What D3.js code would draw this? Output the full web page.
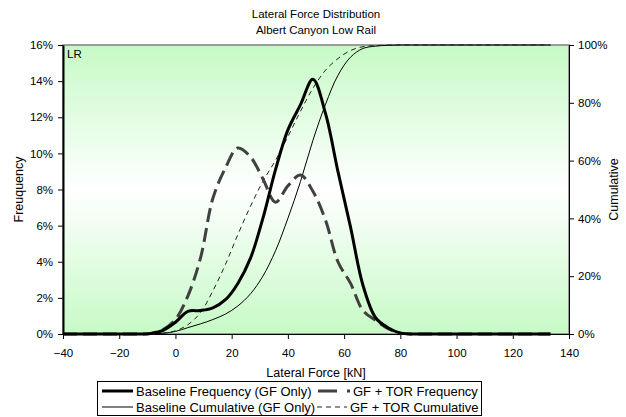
<!DOCTYPE html>
<html>
<head>
<meta charset="utf-8">
<script src="https://cdnjs.cloudflare.com/ajax/libs/d3/7.8.5/d3.min.js"></script>
<style>
  body { margin: 0; background: #fff; }
  svg { display: block; font-family: "Liberation Sans", Arial, sans-serif; }
</style>
</head>
<body>
<svg id="chart"></svg>
<script>
// lateral force bins, kN (1 kip steps)
let force = [-40.0, -35.6, -31.1, -26.7, -22.2, -17.8, -13.3, -8.9, -4.4, 0,
  4.4, 8.9, 13.3, 17.8, 22.2, 26.7, 31.1, 35.6, 40.0, 44.5,
  48.9, 53.4, 57.8, 62.3, 66.7, 71.2, 75.6, 80.1, 84.5, 89.0,
  93.4, 97.9, 102.3, 106.8, 111.2, 115.6, 120.1, 124.5, 129.0, 133.4]

// frequency, %
let baseFreq = [0, 0, 0, 0, 0, 0, 0, 0.02, 0.2, 0.65,
  1.25, 1.3, 1.45, 1.9, 2.8, 4.2, 6.4, 9.1, 11.3, 12.7,
  14.1, 12.2, 9.0, 5.9, 2.7, 0.9, 0.35, 0.05, 0, 0,
  0, 0, 0, 0, 0, 0, 0, 0, 0, 0]

let torFreq = [0, 0, 0, 0, 0, 0, 0, 0.03, 0.25, 0.8,
  2.1, 4.2, 7.5, 9.2, 10.3, 9.8, 8.6, 7.3, 8.2, 8.8,
  7.9, 6.3, 4.0, 2.8, 1.3, 0.75, 0.3, 0.05, 0, 0,
  0, 0, 0, 0, 0, 0, 0, 0, 0, 0]

// cumulative, %
let baseCum = [0, 0, 0, 0, 0, 0, 0, 0.02, 0.25, 0.9,
  2.2, 3.5, 5.0, 6.9, 9.7, 13.9, 20.0, 28.8, 40.0, 52.8,
  67.0, 79.5, 89.5, 95.8, 98.8, 99.6, 99.9, 100, 100, 100,
  100, 100, 100, 100, 100, 100, 100, 100, 100, 100]

let torCum = [0, 0, 0, 0, 0, 0, 0, 0.03, 0.3, 1.1,
  3.2, 7.4, 14.9, 24.1, 34.4, 44.2, 52.8, 60.1, 68.3, 77.1,
  85.0, 91.3, 95.3, 98.1, 99.4, 99.8, 99.95, 100, 100, 100,
  100, 100, 100, 100, 100, 100, 100, 100, 100, 100]

let forceTicks = [-40, -20, 0, 20, 40, 60, 80, 100, 120, 140]
let freqTicks = [0, 2, 4, 6, 8, 10, 12, 14, 16]
let cumTicks = [0, 20, 40, 60, 80, 100]

let width = 626
let height = 417
let margin = { top: 45, right: 57, bottom: 83, left: 63 }
let plotW = width - margin.left - margin.right
let plotH = height - margin.top - margin.bottom

let svg = d3.select("#chart")
  .attr("width", width)
  .attr("height", height)

let x = d3.scaleLinear().domain([-40, 140]).range([margin.left, margin.left + plotW])
let y = d3.scaleLinear().domain([0, 16]).range([margin.top + plotH, margin.top])
let y2 = d3.scaleLinear().domain([0, 100]).range([margin.top + plotH, margin.top])

// plot background gradient
let grad = svg.append("defs").append("linearGradient")
  .attr("id", "bg")
  .attr("x1", 0).attr("y1", 0).attr("x2", 0).attr("y2", 1)
grad.append("stop").attr("offset", "0%").attr("stop-color", "#c6fac6")
grad.append("stop").attr("offset", "50%").attr("stop-color", "#ffffff")
grad.append("stop").attr("offset", "100%").attr("stop-color", "#c6fac6")

svg.append("rect")
  .attr("x", margin.left)
  .attr("y", margin.top)
  .attr("width", plotW)
  .attr("height", plotH)
  .attr("fill", "url(#bg)")
  .attr("stroke", "#808080")
  .attr("stroke-width", 1.5)

// titles
svg.append("text")
  .attr("x", margin.left + plotW / 2)
  .attr("y", 18)
  .attr("text-anchor", "middle")
  .attr("font-size", 11.5)
  .text("Lateral Force Distribution")

svg.append("text")
  .attr("x", margin.left + plotW / 2)
  .attr("y", 34)
  .attr("text-anchor", "middle")
  .attr("font-size", 11.5)
  .text("Albert Canyon Low Rail")

svg.append("text")
  .attr("x", margin.left + 4)
  .attr("y", margin.top + 13)
  .attr("font-size", 11.5)
  .text("LR")

// axes
let xAxis = svg.append("g")
  .attr("transform", "translate(0," + (margin.top + plotH) + ")")
  .call(d3.axisBottom(x).tickValues(forceTicks).tickSize(5).tickPadding(10).tickSizeOuter(0))

let yAxis = svg.append("g")
  .attr("transform", "translate(" + margin.left + ",0)")
  .call(d3.axisLeft(y).tickValues(freqTicks).tickFormat(d => d + "%").tickSize(5).tickPadding(5).tickSizeOuter(0))

let y2Axis = svg.append("g")
  .attr("transform", "translate(" + (margin.left + plotW) + ",0)")
  .call(d3.axisRight(y2).tickValues(cumTicks).tickFormat(d => d + "%").tickSize(5).tickPadding(4).tickSizeOuter(0))

svg.selectAll("g").attr("font-family", null).attr("font-size", null)
svg.selectAll(".tick text").attr("font-size", 11.5).attr("fill", "#000")
svg.selectAll(".domain, .tick line").attr("stroke", "#000")
yAxis.select(".domain").attr("stroke-width", 2)

svg.append("text")
  .attr("transform", "translate(23," + (margin.top + plotH / 2) + ") rotate(-90)")
  .attr("text-anchor", "middle")
  .attr("font-size", 12.5)
  .text("Freuquency")

svg.append("text")
  .attr("transform", "translate(618," + (margin.top + plotH / 2) + ") rotate(-90)")
  .attr("text-anchor", "middle")
  .attr("font-size", 12.5)
  .text("Cumulative")

svg.append("text")
  .attr("x", margin.left + plotW / 2)
  .attr("y", 377)
  .attr("text-anchor", "middle")
  .attr("font-size", 12.5)
  .text("Lateral Force [kN]")

// series
let series = [
  { name: "Baseline Cumulative (GF Only)", values: baseCum, scale: y2, color: "#000", width: 1, dash: null },
  { name: "GF + TOR Cumulative", values: torCum, scale: y2, color: "#222", width: 1, dash: "5,4" },
  { name: "GF + TOR Frequency", values: torFreq, scale: y, color: "#404040", width: 3, dash: "14,6" },
  { name: "Baseline Frequency (GF Only)", values: baseFreq, scale: y, color: "#000", width: 3, dash: null }
]

series.forEach(function(s) {
  let line = d3.line()
    .x((d, i) => x(force[i]))
    .y(d => s.scale(d))
    .curve(d3.curveCatmullRom.alpha(0.5))
  svg.append("path")
    .datum(s.values)
    .attr("d", line)
    .attr("fill", "none")
    .attr("stroke", s.color)
    .attr("stroke-width", s.width)
    .attr("stroke-dasharray", s.dash)
})

// legend
let legend = svg.append("g")
legend.append("rect")
  .attr("x", 97.5)
  .attr("y", 381.5)
  .attr("width", 384)
  .attr("height", 34)
  .attr("fill", "#fff")
  .attr("stroke", "#000")
  .attr("stroke-width", 1)

let legendItems = [
  { s: series[3], x0: 102, x1: 133, y: 391, dash: null },
  { s: series[2], x0: 318, x1: 350, y: 391, dash: "19,10" },
  { s: series[0], x0: 102, x1: 133, y: 407, dash: null },
  { s: series[1], x0: 317, x1: 347, y: 407, dash: "5,4" }
]

legendItems.forEach(function(d) {
  legend.append("line")
    .attr("x1", d.x0).attr("x2", d.x1)
    .attr("y1", d.y).attr("y2", d.y)
    .attr("stroke", d.s.color)
    .attr("stroke-width", d.s.width)
    .attr("stroke-dasharray", d.dash)
  legend.append("text")
    .attr("x", d.x1 + 3)
    .attr("y", d.y + 4.5)
    .attr("font-size", 13)
    .text(d.s.name)
})
</script>
</body>
</html>
